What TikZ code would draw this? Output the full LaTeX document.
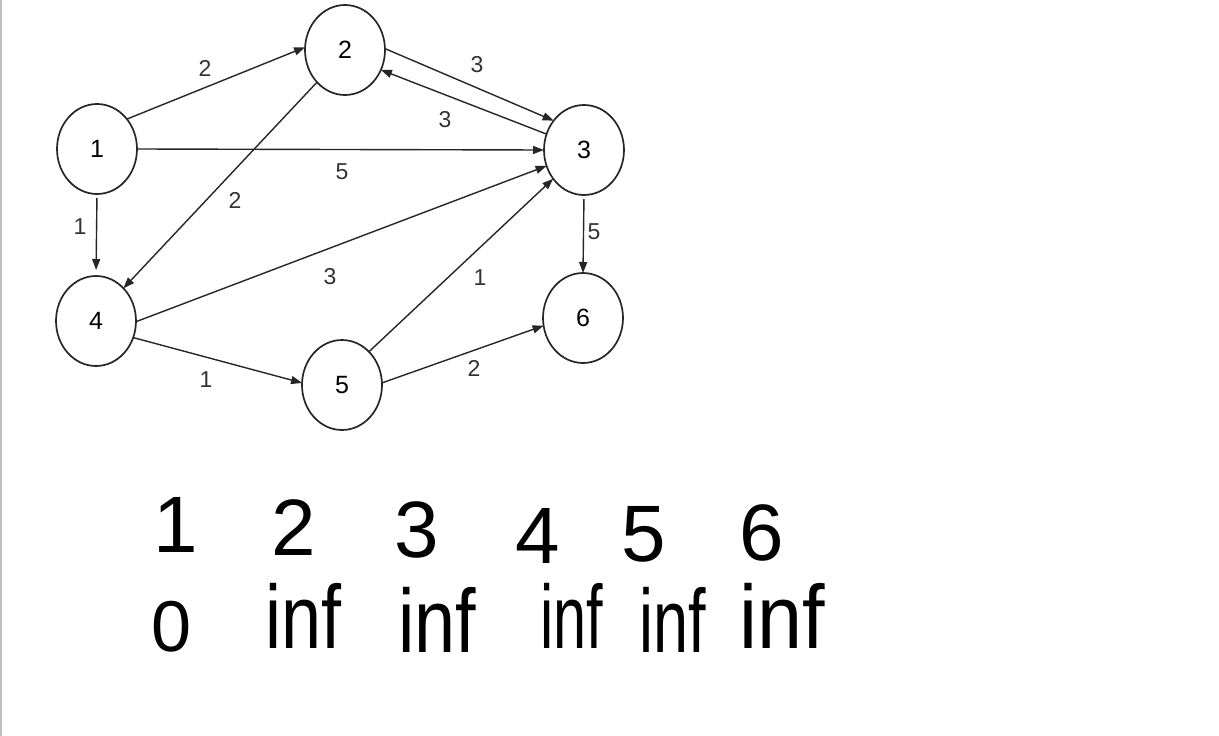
\documentclass[tikz,border=0pt]{standalone}
\usepackage{fontspec}
\setmainfont{Liberation Sans}
\usetikzlibrary{arrows.meta,shapes.geometric}
\begin{document}
\begin{tikzpicture}[x=1pt,y=-1pt,
  vtx/.style={ellipse,draw=black!85,line width=1.7pt,minimum width=80pt,minimum height=90pt,inner sep=0pt,outer sep=0pt,font=\fontsize{25}{28}\selectfont},
  edge/.style={draw=black!85,line width=1.4pt,-{Triangle[length=11pt,width=8pt]}},
  wt/.style={font=\fontsize{23}{26}\selectfont,inner sep=0pt,text=black!80},
  hand/.style={font=\fontsize{80}{84}\selectfont,inner sep=0pt},
  handw/.style={font=\fontsize{90}{94}\selectfont,inner sep=0pt}]
\useasboundingbox (0,0) rectangle (1219,736);
\fill[white] (0,0) rectangle (1219,736);
\draw[black!25,line width=2pt] (1,0) -- (1,736);

% vertices
\node[vtx] (n1) at (97,149) {1};
\node[vtx] (n2) at (345,50) {2};
\node[vtx] (n3) at (584,150) {3};
\node[vtx] (n4) at (96,321) {4};
\node[vtx] (n5) at (342,385) {5};
\node[vtx] (n6) at (583,318) {6};

% edges
\draw[edge] (n1.45) -- (n2.176);
\draw[edge] (n1.0) -- (n3.180);
\draw[edge,shorten <=4pt,shorten >=6pt] (n1.-90) -- (n4.90);
\draw[edge] (n2.-131) -- (n4.50);
\draw[edge] (n2.2) -- (n3.136);
\draw[edge] (n3.157) -- (n2.-29);
\draw[edge] (n4.-1) -- (n3.203);
\draw[edge] (n4.-24) -- (n5.177);
\draw[edge] (n5.51) -- (n3.223);
\draw[edge,shorten <=4pt] (n3.-90) -- (n6.90);
\draw[edge] (n5.3) -- (n6.191);

% weights
\node[wt] (w12) at (205,68) {2};
\node[wt] (w13) at (342,172) {5};
\node[wt] (w14) at (80,227) {1};
\node[wt] (w24) at (235,200) {2};
\node[wt] (w23) at (477,65) {3};
\node[wt] (w32) at (445,120) {3};
\node[wt] (w36) at (594,232) {5};
\node[wt] (w43) at (330,277) {3};
\node[wt] (w45) at (206,380) {1};
\node[wt] (w53) at (480,278) {1};
\node[wt] (w56) at (474,368) {2};

% table
\node[hand] (h1) at (176,525) {1};
\node[hand] (h2) at (294,528) {2};
\node[hand] (h3) at (417,530) {3};
\node[hand] (h4) at (538,536) {4};
\node[hand] (h5) at (644,534) {5};
\node[hand] (h6) at (762,533) {6};
\node[hand,font=\fontsize{72}{76}\selectfont] (v1) at (172,627) {0};
\node[handw] (v2) at (304,616) {\scalebox{0.8}[1]{inf}};
\node[handw] (v3) at (437,620) {\scalebox{0.82}[1]{inf}};
\node[handw] (v4) at (572,616) {\scalebox{0.66}[1]{inf}};
\node[handw] (v5) at (673,620) {\scalebox{0.7}[1]{inf}};
\node[handw] (v6) at (782,616) {\scalebox{0.9}[1]{inf}};
\end{tikzpicture}
\end{document}
